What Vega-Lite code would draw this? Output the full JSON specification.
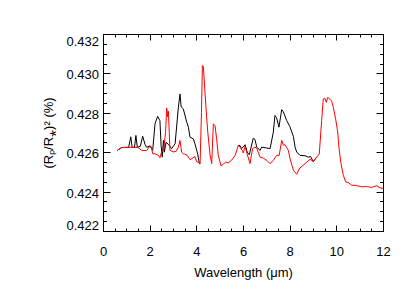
{
  "$schema": "https://vega.github.io/schema/vega-lite/v6.json",
  "width": 280,
  "height": 197,
  "autosize": {"type": "none"},
  "padding": {"left": 103, "top": 34, "right": 32, "bottom": 66},
  "background": "white",
  "config": {
    "view": {"stroke": "black", "strokeWidth": 1},
    "font": "Liberation Sans",
    "axis": {"grid": false, "domainColor": "black", "tickColor": "black", "labelColor": "black", "titleColor": "black", "labelFont": "Liberation Sans", "titleFont": "Liberation Sans", "labelFontSize": 13, "titleFontSize": 13, "titleFontWeight": "normal", "domainWidth": 1, "tickWidth": 1}
  },
  "datasets": {
    "spec": [
      {"series": "black", "seg": "a", "w": 0.61, "v": 0.42609},
      {"series": "black", "seg": "a", "w": 0.80, "v": 0.42624},
      {"series": "black", "seg": "a", "w": 1.10, "v": 0.42625},
      {"series": "black", "seg": "a", "w": 1.19, "v": 0.42678},
      {"series": "black", "seg": "a", "w": 1.25, "v": 0.42625},
      {"series": "black", "seg": "a", "w": 1.35, "v": 0.42625},
      {"series": "black", "seg": "a", "w": 1.41, "v": 0.42685},
      {"series": "black", "seg": "a", "w": 1.47, "v": 0.42625},
      {"series": "black", "seg": "a", "w": 1.60, "v": 0.42630},
      {"series": "black", "seg": "a", "w": 1.70, "v": 0.42681},
      {"series": "black", "seg": "a", "w": 1.80, "v": 0.42640},
      {"series": "black", "seg": "a", "w": 1.87, "v": 0.42625},
      {"series": "black", "seg": "a", "w": 2.01, "v": 0.42632},
      {"series": "black", "seg": "a", "w": 2.13, "v": 0.42610},
      {"series": "black", "seg": "a", "w": 2.23, "v": 0.42744},
      {"series": "black", "seg": "a", "w": 2.34, "v": 0.42782},
      {"series": "black", "seg": "a", "w": 2.44, "v": 0.42760},
      {"series": "black", "seg": "a", "w": 2.49, "v": 0.42634},
      {"series": "black", "seg": "a", "w": 2.54, "v": 0.42575},
      {"series": "black", "seg": "a", "w": 2.59, "v": 0.42660},
      {"series": "black", "seg": "a", "w": 2.63, "v": 0.42600},
      {"series": "black", "seg": "a", "w": 2.70, "v": 0.42650},
      {"series": "black", "seg": "a", "w": 2.80, "v": 0.42640},
      {"series": "black", "seg": "a", "w": 2.94, "v": 0.42618},
      {"series": "black", "seg": "a", "w": 3.09, "v": 0.42643},
      {"series": "black", "seg": "a", "w": 3.23, "v": 0.42828},
      {"series": "black", "seg": "a", "w": 3.30, "v": 0.42895},
      {"series": "black", "seg": "a", "w": 3.35, "v": 0.42830},
      {"series": "black", "seg": "a", "w": 3.44, "v": 0.42820},
      {"series": "black", "seg": "a", "w": 3.59, "v": 0.42752},
      {"series": "black", "seg": "a", "w": 3.66, "v": 0.42727},
      {"series": "black", "seg": "a", "w": 3.73, "v": 0.42676},
      {"series": "black", "seg": "a", "w": 3.87, "v": 0.42668},
      {"series": "black", "seg": "a", "w": 3.94, "v": 0.42643},
      {"series": "black", "seg": "a", "w": 4.06, "v": 0.42590},
      {"series": "black", "seg": "a", "w": 4.13, "v": 0.42542},
      {"series": "black", "seg": "a", "w": 4.16, "v": 0.42540},
      {"series": "black", "seg": "b", "w": 5.80, "v": 0.42634},
      {"series": "black", "seg": "b", "w": 5.87, "v": 0.42634},
      {"series": "black", "seg": "b", "w": 5.94, "v": 0.42618},
      {"series": "black", "seg": "b", "w": 6.09, "v": 0.42638},
      {"series": "black", "seg": "b", "w": 6.18, "v": 0.42600},
      {"series": "black", "seg": "b", "w": 6.27, "v": 0.42587},
      {"series": "black", "seg": "b", "w": 6.44, "v": 0.42671},
      {"series": "black", "seg": "b", "w": 6.51, "v": 0.42665},
      {"series": "black", "seg": "b", "w": 6.59, "v": 0.42626},
      {"series": "black", "seg": "b", "w": 6.73, "v": 0.42609},
      {"series": "black", "seg": "b", "w": 6.80, "v": 0.42626},
      {"series": "black", "seg": "b", "w": 7.02, "v": 0.42621},
      {"series": "black", "seg": "b", "w": 7.16, "v": 0.42618},
      {"series": "black", "seg": "b", "w": 7.30, "v": 0.42702},
      {"series": "black", "seg": "b", "w": 7.37, "v": 0.42786},
      {"series": "black", "seg": "b", "w": 7.44, "v": 0.42775},
      {"series": "black", "seg": "b", "w": 7.54, "v": 0.42727},
      {"series": "black", "seg": "b", "w": 7.66, "v": 0.42816},
      {"series": "black", "seg": "b", "w": 7.73, "v": 0.42805},
      {"series": "black", "seg": "b", "w": 7.87, "v": 0.42761},
      {"series": "black", "seg": "b", "w": 8.01, "v": 0.42730},
      {"series": "black", "seg": "b", "w": 8.16, "v": 0.42680},
      {"series": "black", "seg": "b", "w": 8.23, "v": 0.42626},
      {"series": "black", "seg": "b", "w": 8.30, "v": 0.42601},
      {"series": "black", "seg": "b", "w": 8.44, "v": 0.42584},
      {"series": "black", "seg": "b", "w": 8.66, "v": 0.42582},
      {"series": "black", "seg": "b", "w": 8.80, "v": 0.42575},
      {"series": "black", "seg": "b", "w": 8.90, "v": 0.42578},
      {"series": "black", "seg": "b", "w": 9.01, "v": 0.42552},
      {"series": "black", "seg": "b", "w": 9.16, "v": 0.42575},
      {"series": "red", "seg": "r", "w": 0.61, "v": 0.42609},
      {"series": "red", "seg": "r", "w": 0.80, "v": 0.42624},
      {"series": "red", "seg": "r", "w": 1.00, "v": 0.42624},
      {"series": "red", "seg": "r", "w": 1.20, "v": 0.42625},
      {"series": "red", "seg": "r", "w": 1.50, "v": 0.42624},
      {"series": "red", "seg": "r", "w": 1.66, "v": 0.42609},
      {"series": "red", "seg": "r", "w": 1.87, "v": 0.42608},
      {"series": "red", "seg": "r", "w": 2.01, "v": 0.42632},
      {"series": "red", "seg": "r", "w": 2.07, "v": 0.42628},
      {"series": "red", "seg": "r", "w": 2.13, "v": 0.42592},
      {"series": "red", "seg": "r", "w": 2.23, "v": 0.42592},
      {"series": "red", "seg": "r", "w": 2.37, "v": 0.42584},
      {"series": "red", "seg": "r", "w": 2.44, "v": 0.42572},
      {"series": "red", "seg": "r", "w": 2.51, "v": 0.42601},
      {"series": "red", "seg": "r", "w": 2.60, "v": 0.42610},
      {"series": "red", "seg": "r", "w": 2.68, "v": 0.42700},
      {"series": "red", "seg": "r", "w": 2.73, "v": 0.42825},
      {"series": "red", "seg": "r", "w": 2.77, "v": 0.42780},
      {"series": "red", "seg": "r", "w": 2.80, "v": 0.42808},
      {"series": "red", "seg": "r", "w": 2.84, "v": 0.42700},
      {"series": "red", "seg": "r", "w": 2.87, "v": 0.42610},
      {"series": "red", "seg": "r", "w": 3.01, "v": 0.42601},
      {"series": "red", "seg": "r", "w": 3.14, "v": 0.42605},
      {"series": "red", "seg": "r", "w": 3.23, "v": 0.42626},
      {"series": "red", "seg": "r", "w": 3.30, "v": 0.42660},
      {"series": "red", "seg": "r", "w": 3.37, "v": 0.42600},
      {"series": "red", "seg": "r", "w": 3.44, "v": 0.42592},
      {"series": "red", "seg": "r", "w": 3.51, "v": 0.42590},
      {"series": "red", "seg": "r", "w": 3.61, "v": 0.42584},
      {"series": "red", "seg": "r", "w": 3.73, "v": 0.42562},
      {"series": "red", "seg": "r", "w": 3.80, "v": 0.42567},
      {"series": "red", "seg": "r", "w": 3.94, "v": 0.42578},
      {"series": "red", "seg": "r", "w": 4.01, "v": 0.42552},
      {"series": "red", "seg": "r", "w": 4.09, "v": 0.42550},
      {"series": "red", "seg": "r", "w": 4.16, "v": 0.42540},
      {"series": "red", "seg": "r", "w": 4.22, "v": 0.42800},
      {"series": "red", "seg": "r", "w": 4.26, "v": 0.43040},
      {"series": "red", "seg": "r", "w": 4.30, "v": 0.43035},
      {"series": "red", "seg": "r", "w": 4.37, "v": 0.42904},
      {"series": "red", "seg": "r", "w": 4.44, "v": 0.42780},
      {"series": "red", "seg": "r", "w": 4.49, "v": 0.42702},
      {"series": "red", "seg": "r", "w": 4.59, "v": 0.42584},
      {"series": "red", "seg": "r", "w": 4.66, "v": 0.42542},
      {"series": "red", "seg": "r", "w": 4.73, "v": 0.42744},
      {"series": "red", "seg": "r", "w": 4.80, "v": 0.42735},
      {"series": "red", "seg": "r", "w": 4.87, "v": 0.42668},
      {"series": "red", "seg": "r", "w": 4.94, "v": 0.42584},
      {"series": "red", "seg": "r", "w": 5.06, "v": 0.42530},
      {"series": "red", "seg": "r", "w": 5.16, "v": 0.42540},
      {"series": "red", "seg": "r", "w": 5.26, "v": 0.42550},
      {"series": "red", "seg": "r", "w": 5.36, "v": 0.42545},
      {"series": "red", "seg": "r", "w": 5.51, "v": 0.42559},
      {"series": "red", "seg": "r", "w": 5.66, "v": 0.42584},
      {"series": "red", "seg": "r", "w": 5.80, "v": 0.42634},
      {"series": "red", "seg": "r", "w": 5.87, "v": 0.42625},
      {"series": "red", "seg": "r", "w": 5.97, "v": 0.42609},
      {"series": "red", "seg": "r", "w": 6.01, "v": 0.42596},
      {"series": "red", "seg": "r", "w": 6.09, "v": 0.42630},
      {"series": "red", "seg": "r", "w": 6.18, "v": 0.42590},
      {"series": "red", "seg": "r", "w": 6.30, "v": 0.42542},
      {"series": "red", "seg": "r", "w": 6.41, "v": 0.42618},
      {"series": "red", "seg": "r", "w": 6.51, "v": 0.42626},
      {"series": "red", "seg": "r", "w": 6.59, "v": 0.42620},
      {"series": "red", "seg": "r", "w": 6.73, "v": 0.42575},
      {"series": "red", "seg": "r", "w": 6.87, "v": 0.42570},
      {"series": "red", "seg": "r", "w": 6.94, "v": 0.42565},
      {"series": "red", "seg": "r", "w": 7.05, "v": 0.42555},
      {"series": "red", "seg": "r", "w": 7.16, "v": 0.42542},
      {"series": "red", "seg": "r", "w": 7.30, "v": 0.42559},
      {"series": "red", "seg": "r", "w": 7.44, "v": 0.42584},
      {"series": "red", "seg": "r", "w": 7.55, "v": 0.42584},
      {"series": "red", "seg": "r", "w": 7.66, "v": 0.42660},
      {"series": "red", "seg": "r", "w": 7.73, "v": 0.42635},
      {"series": "red", "seg": "r", "w": 7.80, "v": 0.42638},
      {"series": "red", "seg": "r", "w": 7.94, "v": 0.42610},
      {"series": "red", "seg": "r", "w": 8.01, "v": 0.42570},
      {"series": "red", "seg": "r", "w": 8.16, "v": 0.42508},
      {"series": "red", "seg": "r", "w": 8.30, "v": 0.42488},
      {"series": "red", "seg": "r", "w": 8.44, "v": 0.42520},
      {"series": "red", "seg": "r", "w": 8.66, "v": 0.42542},
      {"series": "red", "seg": "r", "w": 8.87, "v": 0.42564},
      {"series": "red", "seg": "r", "w": 9.01, "v": 0.42554},
      {"series": "red", "seg": "r", "w": 9.16, "v": 0.42575},
      {"series": "red", "seg": "r", "w": 9.27, "v": 0.42592},
      {"series": "red", "seg": "r", "w": 9.37, "v": 0.42760},
      {"series": "red", "seg": "r", "w": 9.44, "v": 0.42870},
      {"series": "red", "seg": "r", "w": 9.51, "v": 0.42873},
      {"series": "red", "seg": "r", "w": 9.57, "v": 0.42853},
      {"series": "red", "seg": "r", "w": 9.63, "v": 0.42878},
      {"series": "red", "seg": "r", "w": 9.73, "v": 0.42868},
      {"series": "red", "seg": "r", "w": 9.80, "v": 0.42860},
      {"series": "red", "seg": "r", "w": 9.87, "v": 0.42828},
      {"series": "red", "seg": "r", "w": 9.97, "v": 0.42769},
      {"series": "red", "seg": "r", "w": 10.06, "v": 0.42702},
      {"series": "red", "seg": "r", "w": 10.11, "v": 0.42626},
      {"series": "red", "seg": "r", "w": 10.20, "v": 0.42542},
      {"series": "red", "seg": "r", "w": 10.30, "v": 0.42483},
      {"series": "red", "seg": "r", "w": 10.40, "v": 0.42449},
      {"series": "red", "seg": "r", "w": 10.51, "v": 0.42446},
      {"series": "red", "seg": "r", "w": 10.66, "v": 0.42432},
      {"series": "red", "seg": "r", "w": 10.80, "v": 0.42432},
      {"series": "red", "seg": "r", "w": 11.09, "v": 0.42424},
      {"series": "red", "seg": "r", "w": 11.30, "v": 0.42426},
      {"series": "red", "seg": "r", "w": 11.51, "v": 0.42421},
      {"series": "red", "seg": "r", "w": 11.73, "v": 0.42430},
      {"series": "red", "seg": "r", "w": 11.87, "v": 0.42419},
      {"series": "red", "seg": "r", "w": 12.00, "v": 0.42416}
    ]
  },
  "data": {"name": "spec"},
  "resolve": {"axis": {"x": "independent", "y": "independent"}},
  "layer": [
    {
      "transform": [{"filter": "datum.series === 'black'"}],
      "mark": {"type": "line", "color": "black", "strokeWidth": 1, "clip": true},
      "encoding": {
        "detail": {"field": "seg"},
        "x": {"field": "w", "type": "quantitative", "scale": {"domain": [0, 12], "nice": false, "zero": false},
          "axis": {"orient": "bottom", "title": "Wavelength (μm)", "values": [0,0.5,1,1.5,2,2.5,3,3.5,4,4.5,5,5.5,6,6.5,7,7.5,8,8.5,9,9.5,10,10.5,11,11.5,12],
            "labelExpr": "datum.value % 2 === 0 ? format(datum.value, 'd') : ''",
            "tickSize": {"condition": {"test": "datum.value % 2 === 0", "value": -6}, "value": -3},
            "labelPadding": 20, "titlePadding": 8, "domain": false, "labelFlush": false}},
        "y": {"field": "v", "type": "quantitative", "scale": {"domain": [0.422, 0.432], "nice": false, "zero": false},
          "axis": {"orient": "left", "title": "(Rₚ/R⁎)² (%)", "values": [0.422,0.4225,0.423,0.4235,0.424,0.4245,0.425,0.4255,0.426,0.4265,0.427,0.4275,0.428,0.4285,0.429,0.4295,0.43,0.4305,0.431,0.4315,0.432],
            "labelExpr": "abs(datum.value*500 - round(datum.value*500)) < 0.01 ? format(datum.value, '.3f') : ''",
            "tickSize": {"condition": {"test": "abs(datum.value*500 - round(datum.value*500)) < 0.01", "value": -7}, "value": -3.5},
            "labelPadding": 11.5, "titlePadding": 10, "domain": false, "labelFlush": true, "labelOffset": 1.5}}
      }
    },
    {
      "transform": [{"filter": "datum.series === 'red'"}],
      "mark": {"type": "line", "color": "#ff0000", "strokeWidth": 1, "clip": true},
      "encoding": {
        "x": {"field": "w", "type": "quantitative",
          "axis": {"orient": "top", "title": null, "labels": false, "values": [0,0.5,1,1.5,2,2.5,3,3.5,4,4.5,5,5.5,6,6.5,7,7.5,8,8.5,9,9.5,10,10.5,11,11.5,12],
            "tickSize": {"condition": {"test": "datum.value % 2 === 0", "value": -6}, "value": -3}, "domain": false}},
        "y": {"field": "v", "type": "quantitative",
          "axis": {"orient": "right", "title": null, "labels": false, "values": [0.422,0.4225,0.423,0.4235,0.424,0.4245,0.425,0.4255,0.426,0.4265,0.427,0.4275,0.428,0.4285,0.429,0.4295,0.43,0.4305,0.431,0.4315,0.432],
            "tickSize": {"condition": {"test": "abs(datum.value*500 - round(datum.value*500)) < 0.01", "value": -7}, "value": -3.5}, "domain": false}}
      }
    }
  ]
}
